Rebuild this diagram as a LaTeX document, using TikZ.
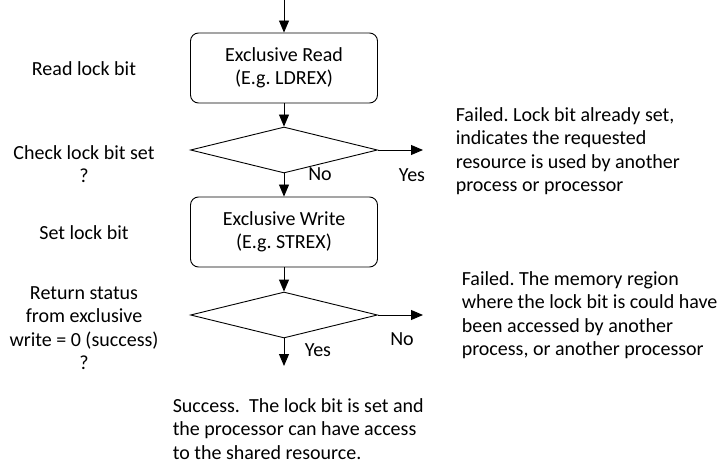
\documentclass[tikz,border=0pt]{standalone}
\usepackage{fontspec}
\setmainfont{Carlito}
\usetikzlibrary{shapes.geometric,arrows.meta}

\tikzset{
  stepbox/.style={draw, rounded corners=8pt, minimum width=187pt, minimum height=70pt, align=center},
  test/.style={draw, diamond, inner sep=0pt, minimum width=187pt, minimum height=46pt},
  note/.style={align=center},
  side/.style={align=left, anchor=west},
}

\begin{document}
\frenchspacing
\begin{tikzpicture}[x=1pt, y=-1pt, line width=0.9pt, >={Triangle[width=10pt,length=12pt]},
  font=\fontsize{20}{23.5}\selectfont]
	\useasboundingbox (0,0) rectangle (717,465);
	
	% Flow boxes
	\coordinate (start) at (284,0);
	\node[stepbox] (read) at (284,68) {Exclusive Read\\(E.g. LDREX)};
	\node[test] (check) at (284,150) {};
	\node[stepbox] (write) at (284,232) {Exclusive Write\\(E.g. STREX)};
	\node[test] (status) at (284,315) {};
	\coordinate (lockset) at (423,150);
	\coordinate (lost) at (423,315);
	\coordinate (done) at (284,366);
	
	% Arrows
	\draw[->] (start) -- (read);
	\draw[->] (read) -- (check);
	\draw[->] (check) -- (write);
	\draw[->] (write) -- (status);
	\draw[->] (check.east) -- (lockset);
	\draw[->] (status.east) -- (lost);
	\draw[->] (status.south) -- (done);
	
	\node (no1) at (320,174) {No};
	\node (yes1) at (412,175) {Yes};
	\node (no2) at (402,339) {No};
	\node (yes2) at (318,350) {Yes};
	
	% Step names
	\node[note] (lread) at (84,69) {Read lock bit};
	\node[note] (lcheck) at (84,164) {Check lock bit set\\?};
	\node[note] (lwrite) at (84,233) {Set lock bit};
	\node[note] (lstatus) at (84,328) {Return status\\from exclusive\\write = 0 (success)\\?};
	
	% Outcomes
	\node[side] (fail1) at (452,151) {Failed. Lock bit already set,\\indicates the requested\\resource is used by another\\process or processor};
	\node[side] (fail2) at (458,315) {Failed. The memory region\\where the lock bit is could have\\been accessed by another\\process, or another processor};
	\node[side, inner ysep=1pt] (success) at (169,429) {Success.\ \ The lock bit is set and\\the processor can have access\\to the shared resource.};
\end{tikzpicture}
\end{document}
